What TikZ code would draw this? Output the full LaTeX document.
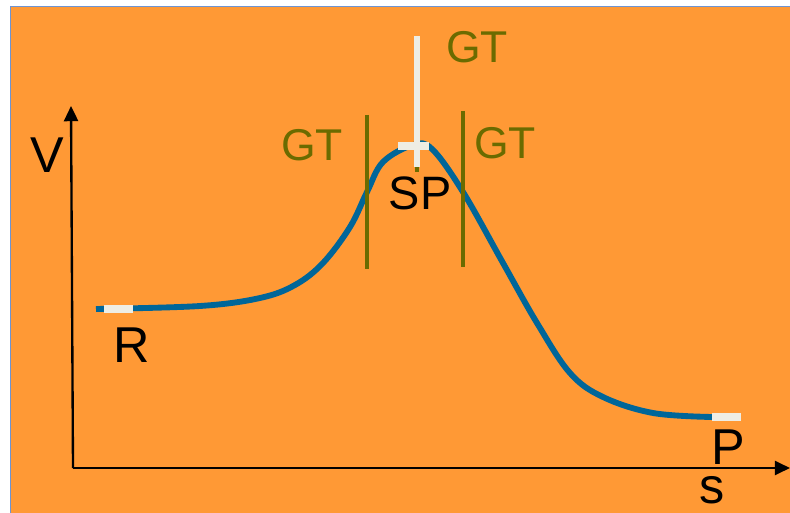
\documentclass[tikz,border=0pt]{standalone}
\usepackage{fontspec}
\setmainfont{Liberation Sans}
\usetikzlibrary{arrows.meta, positioning}
\definecolor{cbg}{HTML}{FF9935}
\definecolor{cframe}{HTML}{6E94D2}
\definecolor{ccurve}{HTML}{006699}
\definecolor{colive}{HTML}{6B6B00}
\definecolor{cmark}{HTML}{EEEDE4}
\tikzset{
  every picture/.style={font=\fontsize{43}{44}\selectfont},
  axis/.style={-{Triangle[length=13pt, width=12pt]}, draw=black, line width=2pt},
  curve/.style={draw=ccurve, line width=5pt},
  hilite/.style={draw=cmark, line width=6pt},
  gate/.style={draw=colive, line width=4.2pt},
  lbl/.style={inner sep=0pt, text=black},
  gtlbl/.style={inner sep=0pt, text=colive, font=\fontsize{38}{40}\selectfont},
}

\begin{document}
\begin{tikzpicture}[x=0.03cm, y=-0.03cm]
  \useasboundingbox (0,0) rectangle (790,513);
  \fill[white] (0,0) rectangle (790,513);
  \filldraw[fill=cbg, draw=cframe, line width=1pt] (10.5,6.5) rectangle (795,520);
  % axes
  \coordinate (o) at (73,468);
  \coordinate (vtop) at (71,106);
  \coordinate (send) at (790,468);
  \draw[axis] (o) -- (vtop);
  \draw[axis] (o) -- (send);
  \node[lbl] (V) at (47,155) {V};
  \node[lbl] (s) at (712,490) {s};
  % energy profile
  \coordinate (r) at (96,309);
  \coordinate (sp) at (413,145);
  \coordinate (p) at (712,417);
  \draw[curve] plot[smooth, tension=0.6] coordinates {
    (r) (200,306) (260,298) (295,285) (323,263) (350,227) (367,192) (383,162)
    (sp) (432,149) (463,192) (503,263) (537,323) (570,373) (603,397) (653,413) (p)};
  \draw[hilite] (104,309) -- (133,309);
  \draw[hilite] (p) -- (741,417);
  \draw[hilite, line width=7pt] (398,146) -- (429,146);
  \draw[gate] (417,120) -- (417,172);
  \draw[hilite, line width=5.5pt] (417,36) -- (417,167);
  \draw[gate] (367,115) -- (367,269);
  \draw[gate] (463,111) -- (463,267);
  \node[lbl] (R) at (132,345) {R};
  \node[lbl, font=\fontsize{40}{42}\selectfont] (SP) at (420,193) {SP};
  \node[lbl] (P) at (728,447) {P};
  \node[gtlbl] (gtl) at (312,145) {GT};
  \node[gtlbl] (gtr) at (505,143) {GT};
  \node[gtlbl] (gtt) at (477,47) {GT};
\end{tikzpicture}
\end{document}
